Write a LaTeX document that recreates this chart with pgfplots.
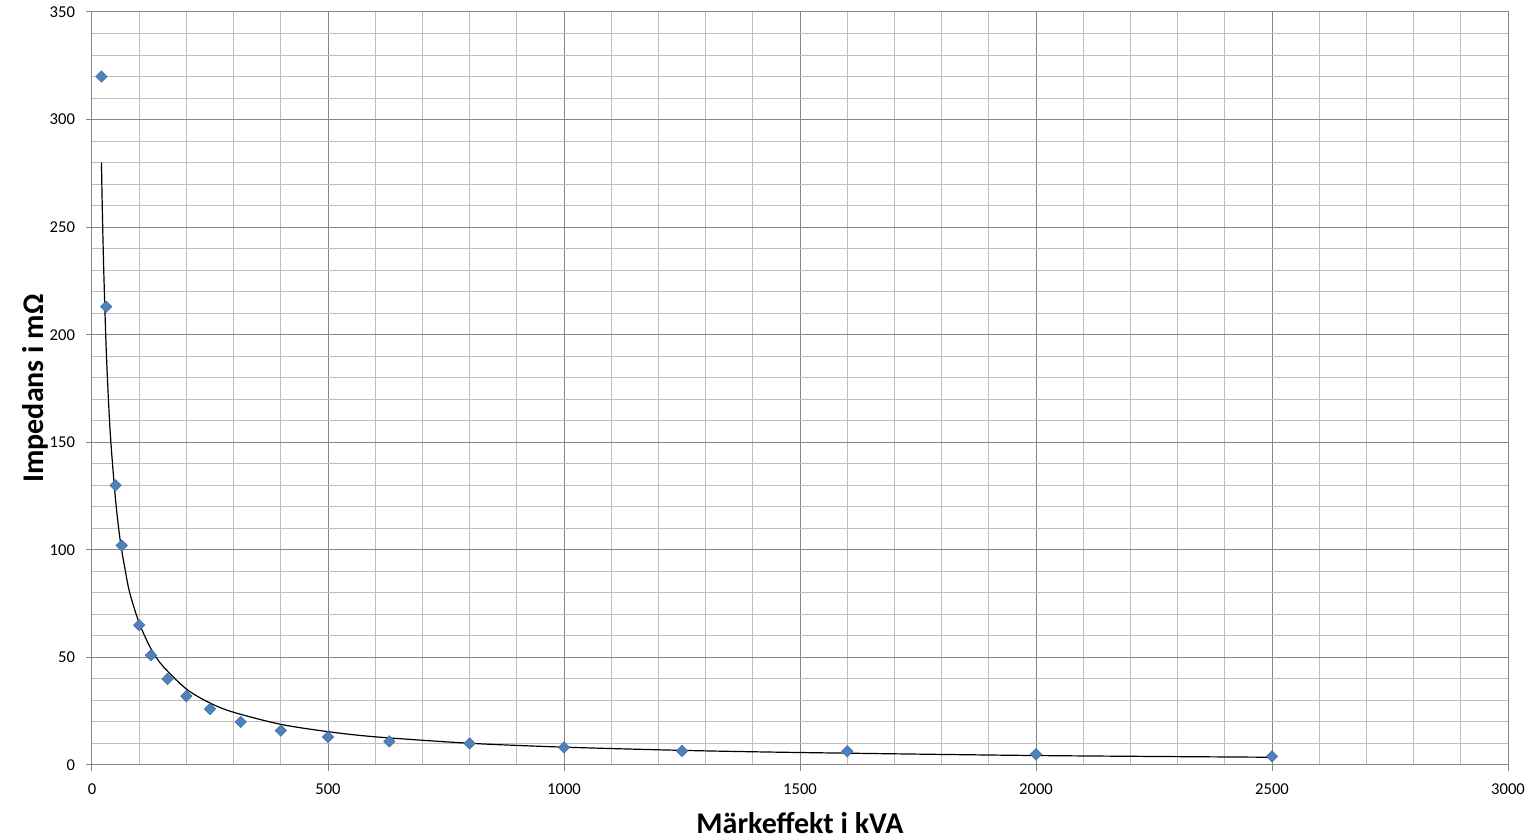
\documentclass[border=0pt]{standalone}
\usepackage{pgfplots}
\pgfplotsset{compat=1.18}
\usepackage{fontspec}
\setmainfont{Carlito}

\definecolor{markblue}{HTML}{4F81BD}
\definecolor{markedge}{HTML}{3F6FA8}
\definecolor{majgrid}{HTML}{878787}
\definecolor{mingrid}{HTML}{BEBEBE}

\begin{document}
\begin{tikzpicture}
\begin{axis}[
  scale only axis,
  width=708pt, height=376.5pt,
  xmin=0, xmax=3000,
  ymin=0, ymax=350,
  xtick={0,500,...,3000},
  ytick={0,50,...,350},
  minor x tick num=4,
  minor y tick num=4,
  xmajorgrids=true, ymajorgrids=true,
  xminorgrids=true, yminorgrids=true,
  major grid style={majgrid, line width=0.5pt},
  minor grid style={mingrid, line width=0.5pt},
  axis line style={majgrid, line width=0.5pt},
  tick style={majgrid, line width=0.5pt},
  major tick length=3pt,
  minor tick length=0pt,
  tick align=outside,
  xtick pos=bottom, ytick pos=left,
  /pgf/number format/assume math mode=true,
  /pgf/number format/1000 sep={},
  tick label style={font=\fontsize{8.3}{9}\selectfont, black},
  xticklabel style={yshift=-3pt},
  yticklabel style={xshift=-2pt},
  xlabel={Märkeffekt i kVA},
  ylabel={Impedans i m\symbol{"03A9}},
  label style={font=\fontsize{15}{17}\selectfont\bfseries, black},
  xlabel style={yshift=-2pt},
  ylabel style={yshift=-6pt},
  clip=false,
]
% power trendline
\addplot [black, line width=0.6pt, smooth] coordinates {
  (20,280) (22,257) (25,229) (30,194) (35,169) (40,150) (50,123)
  (60,104) (70,91) (80,80) (100,66) (125,54) (150,46) (200,35.3)
  (250,28.8) (300,24.5) (400,18.9) (500,15.5) (600,13.1) (800,10.1)
  (1000,8.3) (1250,6.8) (1500,5.8) (2000,4.4) (2500,3.6)
};
% measured impedances
\addplot [only marks, mark=square*, mark size=2pt,
  mark options={rotate=45, fill=markblue, draw=markedge, line width=0.3pt}] coordinates {
  (20,320) (30,213) (50,130) (63,102) (100,65) (125,51) (160,40)
  (200,32) (250,26) (315,20) (400,16) (500,13) (630,11) (800,10)
  (1000,8.2) (1250,6.5) (1600,6.4) (2000,5) (2500,4)
};
\end{axis}
\pgfresetboundingbox
\path ([xshift=-46pt,yshift=-37.5pt]current axis.south west)
  rectangle ([xshift=11.5pt,yshift=6pt]current axis.north east);
\end{tikzpicture}
\end{document}
